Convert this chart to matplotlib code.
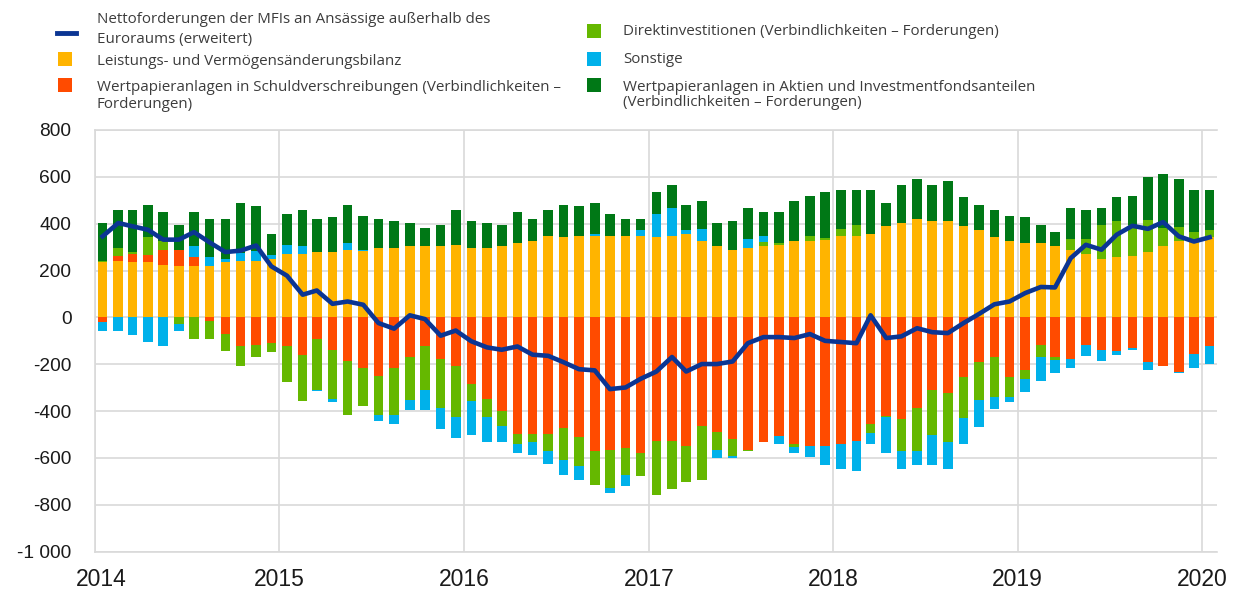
import numpy as np
import pandas as pd
import matplotlib
matplotlib.use("Agg")
import matplotlib.pyplot as plt
import matplotlib.transforms as mtransforms
from matplotlib.patches import Rectangle
from matplotlib.lines import Line2D

# monthly data, Jan 2014 - Jan 2020 (EUR bn, 12-month flows)
months = pd.date_range("2014-01-01", periods=73, freq="MS")

current_account = [235, 242, 235, 235, 225, 218, 218, 218, 235, 242, 242, 249,
                   272, 272, 279, 279, 286, 282, 296, 296, 303, 303, 303, 310,
                   296, 296, 303, 317, 325, 349, 342, 349, 349, 349, 349, 349,
                   342, 349, 356, 325, 303, 286, 296, 303, 310, 325, 325, 332,
                   349, 349, 356, 389, 403, 419, 410, 410, 389, 372, 342, 325,
                   317, 317, 303, 289, 272, 249, 256, 263, 279, 303, 327, 325,
                   342]
debt_securities = [-21, 21, 37, 30, 63, 70, 38, -14, -70, -121, -117, -110,
                   -124, -159, -93, -140, -184, -216, -248, -216, -169, -124, -178, -206,
                   -285, -347, -401, -497, -497, -497, -473, -511, -572, -565, -558, -579,
                   -527, -527, -548, -465, -487, -518, -565, -532, -508, -541, -548, -548,
                   -541, -527, -456, -419, -433, -387, -309, -323, -255, -192, -169, -255,
                   -223, -117, -169, -178, -117, -138, -145, -131, -192, -206, -231, -155,
                   -124]
direct_investment = [5, 33, 7, 77, 37, -28, -91, -77, -75, -85, -53, -36,
                     -152, -199, -216, -208, -232, -161, -168, -199, -185, -185, -209, -219,
                     -70, -78, -64, -44, -36, -75, -135, -122, -145, -161, -114, -100,
                     -233, -205, -155, -228, -78, -75, -7, 21, 7, -14, 24, 7,
                     30, 47, -38, -4, -137, -182, -192, -209, -175, -162, -171, -85,
                     -38, -53, -14, 46, 63, 147, 154, 132, 138, 78, 61, 40,
                     30]
other = [-38, -60, -74, -105, -121, -31, 47, 38, 14, 33, 40, 16,
         38, 31, -7, -14, 31, 4, -24, -38, -40, -85, -88, -90,
         -147, -107, -67, -38, -54, -54, -64, -60, 7, -24, -46, 23,
         100, 118, 16, 54, -36, -7, 38, 24, -33, -24, -46, -84,
         -105, -128, -47, -157, -77, -63, -131, -114, -110, -115, -51, -21,
         -58, -101, -54, -38, -46, -46, -17, -10, -31, 0, -7, -61,
         -75]
equity = [164, 161, 178, 140, 124, 108, 145, 162, 169, 214, 192, 93,
          131, 154, 140, 148, 164, 148, 122, 114, 100, 78, 93, 147,
          114, 107, 93, 131, 94, 108, 140, 125, 132, 93, 70, 47,
          94, 100, 110, 117, 100, 124, 132, 100, 135, 171, 171, 196,
          164, 147, 186, 100, 164, 172, 157, 171, 124, 110, 115, 110,
          110, 78, 61, 132, 122, 71, 102, 124, 181, 231, 202, 178,
          171]
net_mfi = [346, 403, 389, 374, 332, 332, 364, 320, 279, 285, 307, 218,
           178, 97, 115, 58, 68, 54, -24, -48, 9, -7, -78, -56,
           -102, -128, -138, -124, -159, -164, -191, -221, -226, -306, -299, -262,
           -231, -169, -231, -199, -199, -188, -110, -84, -84, -88, -71, -100,
           -105, -110, 9, -88, -81, -46, -63, -67, -24, 14, 56, 68,
           104, 130, 128, 253, 310, 289, 353, 391, 378, 407, 346, 324,
           342]

yticks = [800, 600, 400, 200, 0, -200, -400, -600, -800, -1000]
ytick_labels = ["800", "600", "400", "200", "0", "-200", "-400", "-600", "-800", "-1 000"]
years = ["2014", "2015", "2016", "2017", "2018", "2019", "2020"]

labels = {
    "net": "Nettoforderungen der MFIs an Ansässige außerhalb des\nEuroraums (erweitert)",
    "ca": "Leistungs- und Vermögensänderungsbilanz",
    "debt": "Wertpapieranlagen in Schuldverschreibungen (Verbindlichkeiten –\nForderungen)",
    "fdi": "Direktinvestitionen (Verbindlichkeiten – Forderungen)",
    "other": "Sonstige",
    "equity": "Wertpapieranlagen in Aktien und Investmentfondsanteilen\n(Verbindlichkeiten – Forderungen)",
}

blue = "#0b3593"
yellow = "#ffb400"
orange = "#ff4b00"
lgreen = "#65b800"
lblue = "#00b1ea"
dgreen = "#007816"
grid_c = "#d9d9d9"
text_c = "#3c3c3c"

W, H = 1245, 594
fig = plt.figure(figsize=(W / 100, H / 100), dpi=100)
ax = fig.add_axes([95 / W, 1 - 551.7 / H, (1216.7 - 95) / W, (551.7 - 130) / H])

x = months + pd.Timedelta(days=15)
width = 19

# stacked bars, positives and negatives stacked separately
pos_base = np.zeros(len(months))
neg_base = np.zeros(len(months))
for vals, col in [(current_account, yellow), (debt_securities, orange),
                  (direct_investment, lgreen), (other, lblue), (equity, dgreen)]:
    v = np.array(vals, dtype=float)
    base = np.where(v >= 0, pos_base, neg_base)
    ax.bar(x, v, width=width, bottom=base, color=col, linewidth=0, zorder=2)
    pos_base = pos_base + np.where(v > 0, v, 0)
    neg_base = neg_base + np.where(v < 0, v, 0)

ax.plot(x, net_mfi, color=blue, linewidth=3.3, zorder=3, solid_joinstyle="round")

ax.set_ylim(-1000, 800)
ax.set_xlim(pd.Timestamp("2014-01-01"), pd.Timestamp("2020-01-30"))
ax.set_yticks(yticks)
ax.set_yticklabels(ytick_labels)
ax.set_xticks([pd.Timestamp(f"{y}-01-01") for y in years])
ax.set_xticklabels(years)

ax.grid(True, color=grid_c, linewidth=1.2, zorder=0)
ax.set_axisbelow(True)
for s in ["left", "top", "bottom"]:
    ax.spines[s].set_color(grid_c)
    ax.spines[s].set_linewidth(1.2)
ax.spines["right"].set_visible(False)
ax.tick_params(axis="both", length=0, colors="#1a1a1a")
ax.tick_params(axis="y", pad=17, labelsize=13.8)
ax.tick_params(axis="x", pad=12, labelsize=16.5)
for t in ax.get_xticklabels() + ax.get_yticklabels():
    t.set_family("Liberation Sans")

# first year label sits a little right of the axis edge in the original
first = ax.xaxis.get_major_ticks()[0].label1
first.set_transform(first.get_transform() +
                    mtransforms.ScaledTranslation(0.065, 0, fig.dpi_scale_trans))


# legend drawn in figure pixel positions
def fx(px):
    return px / W


def fy(py):
    return 1 - py / H


def square(x0, y0, col):
    fig.add_artist(Rectangle((fx(x0), fy(y0 + 14)), 14 / W, 14 / H,
                             transform=fig.transFigure, color=col, linewidth=0))


def legend_text(x0, baseline, s):
    fig.text(fx(x0), fy(baseline), s, fontsize=10.9, family="Open Sans",
             color=text_c, va="baseline")


fig.add_artist(Line2D([fx(57), fx(76)], [fy(32.5), fy(32.5)], color=blue,
                      linewidth=3.5, transform=fig.transFigure))
legend_text(97, 22.7, labels["net"].split("\n")[0])
legend_text(97, 43.3, labels["net"].split("\n")[1])
square(58, 52, yellow)
legend_text(97, 65, labels["ca"])
square(58, 78, orange)
legend_text(97, 90.7, labels["debt"].split("\n")[0])
legend_text(97, 108, labels["debt"].split("\n")[1])

square(587, 24, lgreen)
legend_text(623, 35, labels["fdi"])
square(587, 52, lblue)
legend_text(623, 63, labels["other"])
square(587, 78, dgreen)
legend_text(623, 91, labels["equity"].split("\n")[0])
legend_text(623, 106, labels["equity"].split("\n")[1])

fig.savefig("out.png", dpi=100)
